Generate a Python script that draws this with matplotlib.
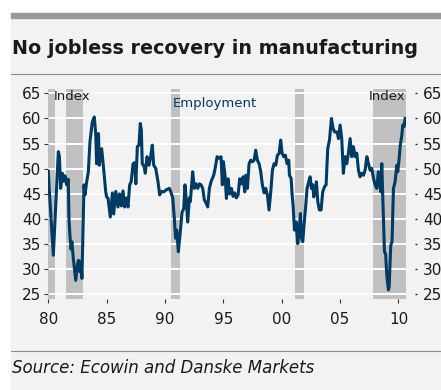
import numpy as np
import matplotlib
matplotlib.use("Agg")
import matplotlib.pyplot as plt
from matplotlib.patches import Rectangle
from matplotlib.lines import Line2D

# --------------------------------------------------------------
# DATA
# --------------------------------------------------------------
years = [
    1980.00, 1980.08, 1980.43, 1980.86, 1980.95, 1981.06, 1981.20, 1981.30, 1981.43, 1981.57,
    1981.71, 1981.77, 1981.86, 1981.95, 1982.02, 1982.14, 1982.35, 1982.49, 1982.58, 1982.70,
    1982.80, 1982.88, 1983.06, 1983.14, 1983.30, 1983.43, 1983.57, 1983.77, 1983.94, 1984.06,
    1984.14, 1984.30, 1984.37, 1984.57, 1984.70, 1984.92, 1985.00, 1985.12, 1985.31, 1985.49,
    1985.60, 1985.78, 1985.97, 1986.10, 1986.26, 1986.40, 1986.54, 1986.69, 1986.83, 1986.97,
    1987.10, 1987.26, 1987.40, 1987.50, 1987.63, 1987.77, 1987.88, 1987.97, 1988.05, 1988.20,
    1988.31, 1988.46, 1988.63, 1988.77, 1988.91, 1989.03, 1989.20, 1989.40, 1989.54, 1989.69,
    1989.89, 1990.10, 1990.37, 1990.50, 1990.66, 1990.80, 1990.90, 1991.00, 1991.14, 1991.31,
    1991.46, 1991.60, 1991.71, 1991.83, 1991.94, 1992.09, 1992.17, 1992.37, 1992.51, 1992.66,
    1992.80, 1992.94, 1993.09, 1993.23, 1993.37, 1993.51, 1993.66, 1993.80, 1993.94, 1994.17,
    1994.29, 1994.46, 1994.66, 1994.80, 1994.91, 1995.00, 1995.14, 1995.26, 1995.40, 1995.54,
    1995.69, 1995.83, 1995.97, 1996.11, 1996.26, 1996.40, 1996.54, 1996.69, 1996.83, 1996.91,
    1997.06, 1997.20, 1997.34, 1997.49, 1997.63, 1997.77, 1997.91, 1998.06, 1998.20, 1998.34,
    1998.49, 1998.63, 1998.77, 1998.91, 1999.06, 1999.20, 1999.34, 1999.49, 1999.63, 1999.77,
    1999.91, 2000.03, 2000.17, 2000.31, 2000.46, 2000.60, 2000.66, 2000.80, 2000.89, 2000.97,
    2001.09, 2001.23, 2001.37, 2001.49, 2001.60, 2001.69, 2001.80, 2001.91, 2002.06, 2002.17,
    2002.31, 2002.43, 2002.54, 2002.66, 2002.74, 2002.86, 2002.97, 2003.09, 2003.23, 2003.37,
    2003.51, 2003.66, 2003.80, 2003.94, 2004.09, 2004.26, 2004.40, 2004.54, 2004.74, 2004.86,
    2005.00, 2005.14, 2005.28, 2005.43, 2005.57, 2005.71, 2005.86, 2006.00, 2006.14, 2006.29,
    2006.43, 2006.57, 2006.71, 2006.86, 2007.00, 2007.14, 2007.29, 2007.43, 2007.57, 2007.71,
    2007.86, 2008.00, 2008.14, 2008.28, 2008.40, 2008.50, 2008.57, 2008.65, 2008.80, 2008.90,
    2009.00, 2009.14, 2009.20, 2009.34, 2009.45, 2009.57, 2009.71, 2009.86, 2009.94, 2010.06,
    2010.14, 2010.29, 2010.37, 2010.49, 2010.57,
]
employment = [
    49.5, 46.0, 32.8, 53.4, 52.5, 46.1, 49.1, 47.5, 48.6, 46.8,
    47.9, 40.1, 36.5, 34.0, 35.5, 32.2, 27.8, 30.8, 31.8, 29.5,
    31.5, 28.2, 46.8, 44.8, 47.6, 49.4, 55.4, 59.3, 60.3, 57.0,
    51.0, 57.0, 50.7, 54.0, 51.0, 45.4, 44.4, 44.1, 40.4, 45.2,
    41.0, 45.5, 42.4, 45.0, 42.6, 45.6, 42.4, 44.2, 42.4, 46.8,
    47.4, 51.0, 51.2, 47.0, 54.4, 54.7, 59.0, 57.7, 51.0, 50.5,
    49.1, 52.4, 50.7, 52.4, 54.7, 50.7, 50.1, 47.4, 44.8, 45.5,
    45.4, 45.8, 46.1, 45.4, 44.2, 40.1, 36.2, 37.8, 33.5, 37.5,
    41.4, 42.0, 46.8, 43.5, 39.4, 44.2, 43.5, 49.4, 46.1, 47.0,
    46.1, 47.0, 46.8, 46.1, 43.8, 43.2, 42.4, 46.1, 47.4, 48.7,
    50.0, 52.4, 52.1, 52.4, 46.8, 51.4, 48.7, 44.1, 48.0, 45.0,
    46.1, 44.5, 45.2, 44.2, 44.8, 48.0, 47.0, 48.4, 45.4, 48.7,
    46.1, 51.0, 51.7, 51.4, 51.7, 53.7, 51.7, 51.0, 49.4, 46.8,
    45.2, 46.1, 44.8, 41.8, 45.4, 49.7, 51.0, 50.7, 52.7, 53.0,
    55.7, 53.1, 52.4, 52.7, 51.0, 51.7, 48.7, 48.1, 44.8, 42.8,
    37.8, 39.4, 35.1, 37.5, 41.1, 36.2, 35.5, 38.8, 42.8, 46.1,
    47.4, 48.4, 46.1, 46.8, 44.4, 45.4, 47.4, 43.4, 41.8, 41.8,
    45.4, 46.4, 46.8, 54.0, 55.7, 60.0, 58.0, 57.3, 57.3, 56.0,
    58.7, 56.0, 49.1, 52.4, 51.0, 53.1, 56.0, 52.4, 54.4, 52.4,
    53.1, 49.7, 48.4, 49.1, 48.7, 49.7, 52.4, 51.0, 49.7, 50.1,
    48.1, 46.8, 46.1, 49.4, 46.8, 45.4, 51.0, 44.8, 33.5, 33.0,
    28.8, 25.9, 26.5, 34.8, 35.5, 46.1, 47.4, 50.7, 49.4, 52.0,
    54.4, 56.7, 58.7, 58.4, 60.0,
]

# recession shading (start, end)
recession_start = [1980.00, 1981.52, 1990.52, 2001.14, 2007.83]
recession_end = [1980.57, 1982.95, 1991.29, 2001.91, 2010.62]

x_ticks = [1980, 1985, 1990, 1995, 2000, 2005, 2010]
x_tick_labels = ["80", "85", "90", "95", "00", "05", "10"]
y_ticks = [25, 30, 35, 40, 45, 50, 55, 60, 65]

# --------------------------------------------------------------
# STYLE
# --------------------------------------------------------------
NAVY = "#003b66"
PANEL = "#f2f2f2"
SHADE = "#c0c0c0"
W, H = 441, 390

plt.rcParams["font.family"] = ["DejaVu Sans"]

fig = plt.figure(figsize=(W / 100, H / 100), dpi=100, facecolor="white")

# light grey panel + frame lines (drawn behind the axes)
fig.patches.append(Rectangle((11 / W, 0), 1 - 11 / W, 1 - 17 / H,
                             transform=fig.transFigure, color=PANEL, zorder=-2))
fig.patches.append(Rectangle((11 / W, 1 - 17.5 / H), 1 - 11 / W, 5 / H,
                             transform=fig.transFigure, color="#999999", zorder=-1))
fig.lines.append(Line2D([11 / W, 1], [1 - 74 / H, 1 - 74 / H],
                        transform=fig.transFigure, color="#8c8c8c", lw=0.8, zorder=-1))
fig.lines.append(Line2D([11 / W, 1], [1 - 351 / H, 1 - 351 / H],
                        transform=fig.transFigure, color="#8c8c8c", lw=0.8, zorder=-1))

fig.text(12 / W, 1 - 48 / H, "No jobless recovery in manufacturing",
         fontsize=13.8, fontweight="bold", va="center", ha="left", color="#1a1a1a")
fig.text(12 / W, 1 - 368 / H, "Source: Ecowin and Danske Markets",
         fontsize=12, style="italic", va="center", ha="left", color="#1a1a1a")

# --------------------------------------------------------------
# PLOT
# --------------------------------------------------------------
left, right = 48.3 / W, 405.7 / W
bottom, top = 1 - 299 / H, 1 - 89.3 / H
ax = fig.add_axes([left, bottom, right - left, top - bottom])
ax.set_facecolor(PANEL)

for s, e in zip(recession_start, recession_end):
    ax.axvspan(s, e, color=SHADE, lw=0, zorder=1)

ax.plot(years, employment, color=NAVY, lw=2.2, zorder=3)

ax.set_xlim(1980, 2010.62)
ax.set_ylim(24.1, 65.8)
ax.set_xticks(x_ticks)
ax.set_xticklabels(x_tick_labels)
ax.set_yticks(y_ticks)
ax.grid(axis="y", color="white", lw=1.4, zorder=2)
ax.grid(axis="x", visible=False)

for sp in ax.spines.values():
    sp.set_visible(False)

ax.tick_params(axis="x", length=3, width=0.8, color="#333333", pad=6,
               labelsize=11, labelcolor="#1a1a1a")
ax.tick_params(axis="y", left=True, right=False, length=3, width=0.8, color="#333333",
               pad=2, labelsize=11, labelcolor="#1a1a1a")

# right-hand axis with same scale
ax2 = ax.twinx()
ax2.set_ylim(ax.get_ylim())
ax2.set_yticks(y_ticks)
for sp in ax2.spines.values():
    sp.set_visible(False)
ax2.spines["right"].set_position(("outward", 7))
ax2.tick_params(axis="y", length=1.5, width=1, color="#333333", pad=4,
                labelsize=11, labelcolor="#1a1a1a")

ax.text(54 / W, 1 - 97 / H, "Index", transform=fig.transFigure,
        fontsize=9.5, va="center", ha="left", color="#1a1a1a", zorder=5)
ax.text(405 / W, 1 - 97 / H, "Index", transform=fig.transFigure,
        fontsize=9.5, va="center", ha="right", color="#1a1a1a", zorder=5)
ax.text(173 / W, 1 - 104 / H, "Employment", transform=fig.transFigure,
        fontsize=9.5, va="center", ha="left", color=NAVY, zorder=5)

fig.savefig("out.png", dpi=100, facecolor="white")
